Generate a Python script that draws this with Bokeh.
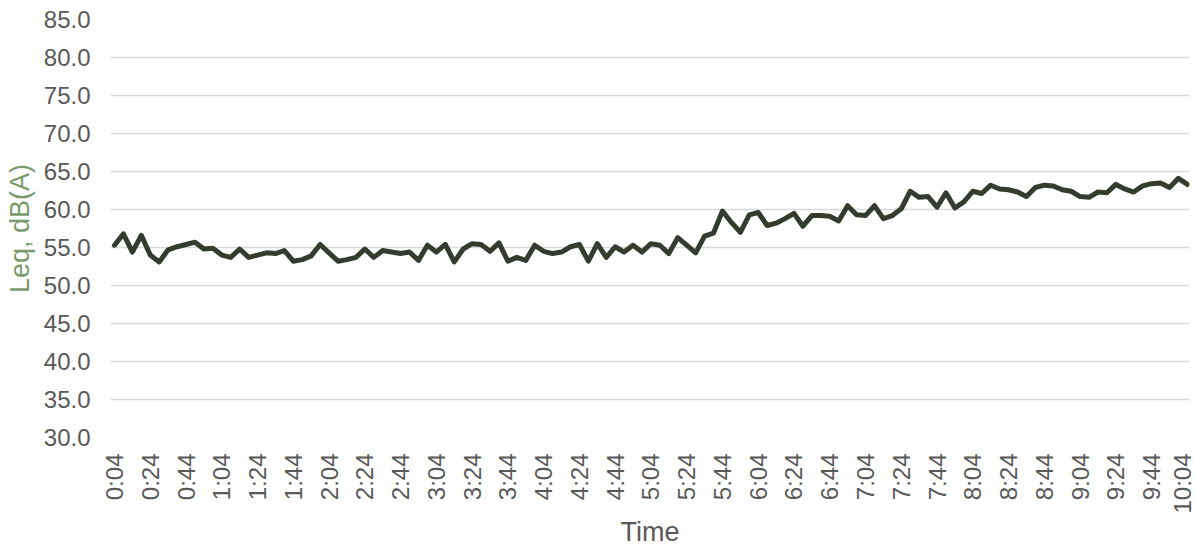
import math
from bokeh.plotting import figure
from bokeh.models import Range1d, FixedTicker, PrintfTickFormatter
from bokeh.embed import file_html
from bokeh.resources import INLINE

# minutes since 0:00 for each 5-minute sample (0:04 .. 10:04)
minutes = list(range(4, 605, 5))

leq = [
    55.3, 56.8, 54.4, 56.6, 54.0, 53.1, 54.7, 55.1, 55.4, 55.7,
    54.8, 54.9, 54.0, 53.7, 54.8, 53.7, 54.0, 54.3, 54.2, 54.6,
    53.2, 53.4, 53.9, 55.4, 54.3, 53.2, 53.4, 53.7, 54.8, 53.7,
    54.6, 54.4, 54.2, 54.4, 53.3, 55.3, 54.4, 55.4, 53.1, 54.8,
    55.5, 55.4, 54.5, 55.6, 53.2, 53.7, 53.3, 55.3, 54.5, 54.2,
    54.4, 55.1, 55.4, 53.2, 55.5, 53.7, 55.1, 54.4, 55.3, 54.4,
    55.5, 55.3, 54.2, 56.3, 55.3, 54.3, 56.5, 56.9, 59.8, 58.3,
    57.0, 59.3, 59.6, 57.9, 58.2, 58.8, 59.5, 57.8, 59.2, 59.2,
    59.1, 58.5, 60.5, 59.3, 59.2, 60.5, 58.8, 59.2, 60.1, 62.4,
    61.6, 61.7, 60.3, 62.2, 60.2, 61.0, 62.4, 62.1, 63.2, 62.7,
    62.6, 62.3, 61.7, 62.9, 63.2, 63.1, 62.6, 62.4, 61.7, 61.6,
    62.3, 62.2, 63.3, 62.7, 62.3, 63.1, 63.4, 63.5, 62.9, 64.1,
    63.3,
]

tick_minutes = list(range(4, 605, 20))
tick_labels = [
    "0:04", "0:24", "0:44", "1:04", "1:24", "1:44", "2:04", "2:24", "2:44",
    "3:04", "3:24", "3:44", "4:04", "4:24", "4:44", "5:04", "5:24", "5:44",
    "6:04", "6:24", "6:44", "7:04", "7:24", "7:44", "8:04", "8:24", "8:44",
    "9:04", "9:24", "9:44", "10:04",
]
y_ticks = [30, 35, 40, 45, 50, 55, 60, 65, 70, 75, 80, 85]
x_title = "Time"
y_title = "Leq, dB(A)"

FONT = "Liberation Sans"
GREY = "#595959"

X0, X1 = 1.76, 605.2
p = figure(
    width=1195, height=549, output_backend="svg", toolbar_location=None,
    x_range=Range1d(X0, X1), y_range=Range1d(30, 85),
    min_border_left=110, min_border_right=6, min_border_top=19, min_border_bottom=112,
)
p.outline_line_color = None
p.background_fill_color = "white"
p.border_fill_color = "white"

p.line(minutes, leq, line_width=5, line_color="#343c2f",
       line_join="round", line_cap="round")

p.xgrid.grid_line_color = None
p.ygrid.grid_line_color = "#d9d9d9"
p.ygrid.grid_line_width = 1.3

# y axis
ya = p.yaxis[0]
ya.ticker = FixedTicker(ticks=y_ticks)
ya.formatter = PrintfTickFormatter(format="%.1f")
ya.axis_line_color = None
ya.major_tick_line_color = None
ya.major_tick_out = 0
ya.major_tick_in = 0
ya.minor_tick_line_color = None
ya.minor_tick_out = 0
ya.minor_tick_in = 0
ya.major_label_text_font = FONT
ya.major_label_text_font_size = "24px"
ya.major_label_text_color = GREY
ya.major_label_standoff = 20
ya.axis_label = y_title
ya.axis_label_text_font = FONT
ya.axis_label_text_font_size = "27px"
ya.axis_label_text_font_style = "normal"
ya.axis_label_text_color = "#7a9a6b"
ya.axis_label_standoff = 6

# x axis
xa = p.xaxis[0]
xa.ticker = FixedTicker(ticks=tick_minutes)
xa.major_label_overrides = {m: lab for m, lab in zip(tick_minutes, tick_labels)}
xa.major_label_orientation = math.pi / 2
xa.axis_line_color = None
xa.major_tick_line_color = None
xa.major_tick_out = 0
xa.major_tick_in = 0
xa.minor_tick_line_color = None
xa.minor_tick_out = 0
xa.minor_tick_in = 0
xa.major_label_text_font = FONT
xa.major_label_text_font_size = "24px"
xa.major_label_text_color = GREY
xa.major_label_standoff = 16
xa.axis_label = x_title
xa.axis_label_text_font = FONT
xa.axis_label_text_font_size = "27px"
xa.axis_label_text_font_style = "normal"
xa.axis_label_text_color = GREY
xa.axis_label_standoff = 0

open("out.html", "w").write(file_html(p, INLINE))
